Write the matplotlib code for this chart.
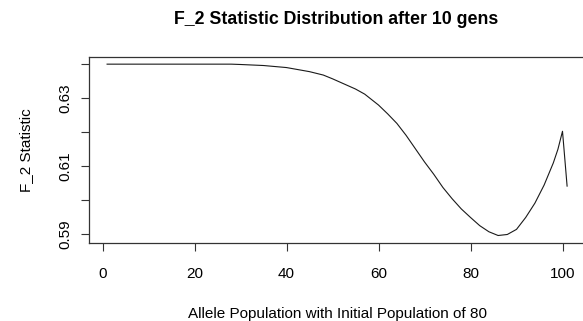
import matplotlib
matplotlib.use("Agg")
import matplotlib.pyplot as plt

plt.rcParams['font.family'] = ['Liberation Sans', 'DejaVu Sans']

# allele count vs F_2 statistic
allele = [1, 10, 20, 28, 30, 35, 40, 45, 48, 50, 52, 55, 57, 60, 62, 64, 66, 68,
          70, 72, 74, 76, 78, 80, 82, 84, 86, 88, 90, 92, 94, 96, 98, 99, 100, 101]
f2 = [0.6400, 0.6400, 0.6400, 0.6400, 0.6399, 0.6396, 0.6390, 0.6378, 0.6368,
      0.6357, 0.6345, 0.6327, 0.6312, 0.6280, 0.6254, 0.6226, 0.6191, 0.6152,
      0.6113, 0.6077, 0.6038, 0.6005, 0.5975, 0.5950, 0.5926, 0.5908, 0.5897,
      0.5900, 0.5915, 0.5950, 0.5992, 0.6045, 0.6110, 0.6150, 0.6203, 0.6042]

xticks = [0, 20, 40, 60, 80, 100]
yticks = [0.59, 0.60, 0.61, 0.62, 0.63, 0.64]
ylabels = ["0.59", "", "0.61", "", "0.63", ""]

W, H = 583, 321
fig = plt.figure(figsize=(W / 100, H / 100), dpi=100)
left, right, top, bottom = 88.7, 585.5, 57, 243
ax = fig.add_axes([left / W, (H - bottom) / H, (right - left) / W, (bottom - top) / H])

ax.plot(allele, f2, color='#1a1a1a', linewidth=0.8)

# R style 4% padding
ax.set_xlim(-3, 105)
ax.set_ylim(0.5875, 0.6421)

ax.set_xticks(xticks)
ax.set_yticks(yticks)
ax.set_yticklabels(ylabels, rotation=90, va='center')
ax.tick_params(axis='both', length=6, width=0.8, labelsize=11, color='#333333')
ax.tick_params(axis='x', pad=11.5)
ax.tick_params(axis='y', pad=6)
for s in ax.spines.values():
    s.set_color('#333333')
    s.set_linewidth(0.9)

ax.set_xlabel("Allele Population with Initial Population of 80", fontsize=11, labelpad=18.5)
ax.set_ylabel("F_2 Statistic", fontsize=11, labelpad=18)
fig.text((left + 585.5) / 2 / W - 1 / W, 1 - 19 / H, "F_2 Statistic Distribution after 10 gens",
         ha='center', va='center', fontsize=12.8, fontweight='bold')

fig.savefig("out.png", dpi=100)
